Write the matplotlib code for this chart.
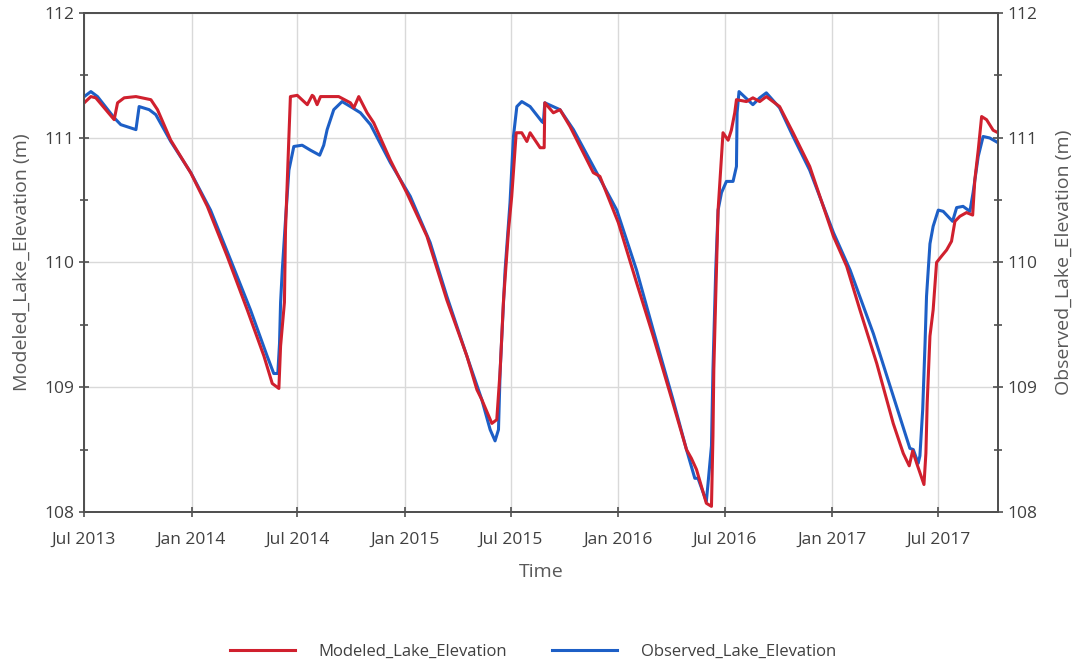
import matplotlib
matplotlib.use("Agg")
import matplotlib.pyplot as plt
import matplotlib.dates as mdates
from matplotlib.ticker import MultipleLocator
from datetime import datetime, timedelta

plt.rcParams['font.family'] = ['Open Sans', 'DejaVu Sans']

# time in decimal years, elevation in m
mod_t = [2013.497, 2013.528, 2013.551, 2013.637, 2013.653, 2013.684, 2013.739, 2013.809, 2013.840,
         2013.902, 2013.996, 2014.074, 2014.167, 2014.261, 2014.339, 2014.378, 2014.409, 2014.417,
         2014.435, 2014.440, 2014.456, 2014.463, 2014.495, 2014.542, 2014.565, 2014.572, 2014.588,
         2014.604, 2014.689, 2014.744, 2014.760, 2014.783, 2014.822, 2014.853, 2014.931, 2015.009,
         2015.103, 2015.196, 2015.290, 2015.337, 2015.360, 2015.407, 2015.430, 2015.446, 2015.461,
         2015.485, 2015.500, 2015.521, 2015.547, 2015.571, 2015.586, 2015.633, 2015.652, 2015.655,
         2015.695, 2015.726, 2015.773, 2015.835, 2015.882, 2015.913, 2015.999, 2016.085, 2016.163,
         2016.256, 2016.319, 2016.342, 2016.366, 2016.412, 2016.436, 2016.443, 2016.447, 2016.456,
         2016.467, 2016.483, 2016.490, 2016.514, 2016.529, 2016.545, 2016.553, 2016.600, 2016.630,
         2016.662, 2016.693, 2016.755, 2016.818, 2016.896, 2017.005, 2017.067, 2017.129, 2017.208,
         2017.285, 2017.332, 2017.360, 2017.376, 2017.395, 2017.429, 2017.438, 2017.444, 2017.457,
         2017.472, 2017.488, 2017.511, 2017.535, 2017.558, 2017.574, 2017.597, 2017.628, 2017.657,
         2017.667, 2017.683, 2017.699, 2017.722, 2017.753, 2017.776]
mod_h = [111.28, 111.33, 111.32, 111.145, 111.28, 111.32, 111.33, 111.305, 111.225,
         110.98, 110.717, 110.45, 110.05, 109.62, 109.25, 109.03, 108.99, 109.33,
         109.68, 110.26, 111.01, 111.33, 111.34, 111.265, 111.34, 111.33, 111.265,
         111.33, 111.33, 111.28, 111.24, 111.33, 111.20, 111.12, 110.82, 110.557,
         110.21, 109.70, 109.25, 108.98, 108.90, 108.71, 108.74, 109.14, 109.68,
         110.26, 110.53, 111.04, 111.04, 110.97, 111.04, 110.92, 110.92, 111.28,
         111.20, 111.225, 111.09, 110.88, 110.72, 110.69, 110.32, 109.84, 109.41,
         108.87, 108.50, 108.43, 108.34, 108.07, 108.045, 108.61, 109.14, 109.73,
         110.42, 110.85, 111.04, 110.98, 111.06, 111.20, 111.305, 111.29, 111.32,
         111.29, 111.33, 111.25, 111.04, 110.77, 110.21, 109.97, 109.62, 109.19,
         108.71, 108.47, 108.37, 108.49, 108.39, 108.22, 108.47, 108.87, 109.41,
         109.62, 110.00, 110.05, 110.10, 110.17, 110.33, 110.37, 110.40, 110.38,
         110.66, 110.90, 111.17, 111.145, 111.06, 111.04]

obs_t = [2013.497, 2013.528, 2013.559, 2013.637, 2013.668, 2013.739, 2013.754, 2013.801, 2013.832,
         2013.902, 2013.996, 2014.089, 2014.183, 2014.276, 2014.354, 2014.385, 2014.404, 2014.412,
         2014.417, 2014.425, 2014.440, 2014.456, 2014.479, 2014.518, 2014.557, 2014.600, 2014.619,
         2014.635, 2014.666, 2014.705, 2014.744, 2014.791, 2014.838, 2014.931, 2015.025, 2015.118,
         2015.196, 2015.290, 2015.360, 2015.399, 2015.422, 2015.438, 2015.446, 2015.469, 2015.492,
         2015.508, 2015.524, 2015.547, 2015.586, 2015.641, 2015.648, 2015.655, 2015.726, 2015.789,
         2015.882, 2015.992, 2016.085, 2016.163, 2016.256, 2016.319, 2016.358, 2016.373, 2016.412,
         2016.420, 2016.436, 2016.443, 2016.456, 2016.467, 2016.483, 2016.506, 2016.537, 2016.553,
         2016.556, 2016.565, 2016.630, 2016.662, 2016.693, 2016.755, 2016.818, 2016.896, 2017.005,
         2017.083, 2017.192, 2017.285, 2017.363, 2017.379, 2017.402, 2017.410, 2017.423, 2017.434,
         2017.441, 2017.457, 2017.472, 2017.496, 2017.519, 2017.563, 2017.582, 2017.612, 2017.644,
         2017.659, 2017.683, 2017.706, 2017.737, 2017.776]
obs_h = [111.33, 111.37, 111.33, 111.16, 111.105, 111.065, 111.25, 111.225, 111.185,
         110.97, 110.72, 110.42, 110.02, 109.62, 109.25, 109.11, 109.11, 109.35,
         109.68, 109.94, 110.34, 110.74, 110.93, 110.94, 110.90, 110.86, 110.94,
         111.065, 111.225, 111.29, 111.25, 111.20, 111.105, 110.80, 110.53, 110.16,
         109.73, 109.25, 108.90, 108.66, 108.57, 108.66, 109.14, 109.94, 110.48,
         111.01, 111.25, 111.29, 111.25, 111.13, 111.12, 111.28, 111.225, 111.065,
         110.77, 110.42, 109.94, 109.46, 108.90, 108.50, 108.27, 108.27, 108.085,
         108.23, 108.53, 109.14, 109.94, 110.42, 110.56, 110.65, 110.65, 110.77,
         111.20, 111.37, 111.265, 111.32, 111.36, 111.24, 111.01, 110.74, 110.24,
         109.94, 109.43, 108.93, 108.51, 108.50, 108.39, 108.45, 108.82, 109.35,
         109.73, 110.15, 110.29, 110.42, 110.41, 110.33, 110.44, 110.45, 110.41,
         110.56, 110.85, 111.01, 110.998, 110.96]


def to_date(y):
    year = int(y)
    return datetime(year, 1, 1) + timedelta(days=(y - year) * 365.25)


mod_d = [to_date(v) for v in mod_t]
obs_d = [to_date(v) for v in obs_t]

tick_col = '#404040'
lab_col = '#595959'
spine_col = '#505050'

fig = plt.figure(figsize=(10.79, 6.63), dpi=100)
ax = fig.add_axes([0.0778, 0.2278, 0.8472, 0.7526])

ax.plot(obs_d, obs_h, color='#1d5fc6', lw=2.2, label='Observed_Lake_Elevation', zorder=3)
ax.plot(mod_d, mod_h, color='#d0202e', lw=2.2, label='Modeled_Lake_Elevation', zorder=4)

ax.set_xlim(datetime(2013, 7, 1), to_date(2017.776))
ax.set_ylim(108, 112)
ax.xaxis.set_major_locator(mdates.MonthLocator(bymonth=[1, 7]))
ax.xaxis.set_major_formatter(mdates.DateFormatter('%b %Y'))
ax.yaxis.set_major_locator(MultipleLocator(1))
ax.yaxis.set_minor_locator(MultipleLocator(0.5))
ax.grid(True, which='major', color='#d9d9d9', lw=1)

ax2 = ax.twinx()
ax2.set_ylim(108, 112)
ax2.yaxis.set_major_locator(MultipleLocator(1))
ax2.yaxis.set_minor_locator(MultipleLocator(0.5))

for a in (ax, ax2):
    for s in a.spines.values():
        s.set_color(spine_col)
        s.set_linewidth(1.3)
    a.tick_params(which='both', direction='inout', colors=spine_col, labelcolor=tick_col,
                  labelsize=12.5, length=7, width=1.2)
    a.tick_params(which='minor', length=6)
ax.tick_params(axis='x', pad=11)

ax.set_xlabel('Time', fontsize=14, color=lab_col, labelpad=11)
ax.set_ylabel('Modeled_Lake_Elevation (m)', fontsize=14, color=lab_col, labelpad=10)
ax2.set_ylabel('Observed_Lake_Elevation (m)', fontsize=14, color=lab_col, labelpad=12)

h, l = ax.get_legend_handles_labels()
fs = 12 * 100 / 72
leg = fig.legend(h[::-1], l[::-1], loc='lower center', bbox_to_anchor=(0.494, -0.018), ncol=2,
                 frameon=False, fontsize=12, handlelength=65 / fs, handletextpad=24 / fs,
                 columnspacing=45 / fs)
for t in leg.get_texts():
    t.set_color(tick_col)

fig.savefig('out.png', dpi=100)
